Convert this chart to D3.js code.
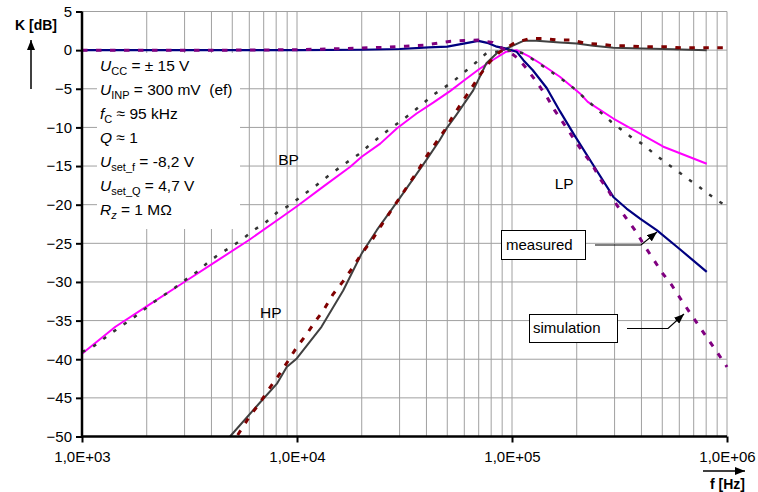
<!DOCTYPE html>
<html lang="en">
<head>
<meta charset="UTF-8">
<title>Filter frequency response</title>
<script src="https://cdn.jsdelivr.net/npm/d3@7"></script>
<style>
  body { margin: 0; background: #fff; }
  svg { display: block; font-family: Arial, "Liberation Sans", sans-serif; }
  .grid line { stroke: #a0a0a0; stroke-width: 1; }
  .curve { fill: none; stroke-linejoin: round; }
</style>
</head>
<body>
<svg id="chart" width="758" height="492"></svg>
<script>
// frequencies in Hz, gain K in dB
const lpMeasF = [1000, 2000, 5000, 10000, 20000, 30000, 41000, 50000, 59500, 69700, 77700, 85000, 94000, 105000, 113000, 125000, 145000, 167000, 195000, 239000, 296000, 341000, 394000, 471000, 600000, 805000];
const lpMeasK = [0, 0, 0, 0, 0.05, 0.15, 0.35, 0.45, 0.85, 1.2, 0.9, 0.45, 0.2, -0.2, -1.3, -2.6, -4.9, -7.9, -11.0, -14.9, -19.0, -20.5, -21.8, -23.3, -25.7, -28.7];

const lpSimF = [1000, 2000, 5000, 10000, 16000, 25000, 32000, 39000, 45000, 52000, 60000, 69600, 81000, 90600, 98000, 107000, 117000, 130000, 145000, 158000, 175000, 189000, 211000, 235000, 256000, 284000, 308000, 341000, 378000, 417000, 458000, 502000, 553000, 609000, 673000, 741000, 811000, 889000, 979000, 1000000];
const lpSimK = [0, 0, 0, 0.05, 0.2, 0.35, 0.5, 0.65, 0.9, 1.15, 1.25, 1.3, 1.0, 0.2, -0.3, -1.1, -2.4, -4.1, -6.0, -7.8, -9.6, -11.0, -13.0, -14.7, -16.6, -18.4, -20.1, -21.8, -23.5, -25.5, -27.2, -28.9, -30.4, -32.2, -34.0, -35.7, -37.3, -38.9, -40.6, -41.0];

const hpMeasF = [4880, 6730, 8050, 8960, 9980, 13000, 16400, 20000, 23500, 29600, 40000, 46000, 49700, 55000, 66000, 76000, 85000, 94000, 113000, 130000, 150000, 167000, 200000, 239000, 296000, 405000, 563000, 805000];
const hpMeasK = [-50, -45.6, -43.2, -41.0, -39.9, -35.8, -31.1, -26.3, -23.3, -19.4, -14.2, -11.7, -10.1, -8.4, -5.2, -1.7, -0.4, 0.2, 1.2, 1.2, 1.1, 1.0, 0.86, 0.56, 0.3, 0.2, 0.13, 0];

const hpSimF = [5300, 5990, 6730, 7430, 8260, 9100, 10000, 11000, 12100, 13400, 14700, 16400, 18200, 20000, 22300, 24500, 26900, 29900, 33000, 36300, 39900, 44000, 48500, 53000, 58000, 63800, 71000, 79000, 88000, 103000, 121000, 140000, 163000, 190000, 220000, 262000, 296000, 350000, 405000, 460000, 530000, 610000, 700000, 800000, 1000000];
const hpSimK = [-49.8, -47.5, -45.6, -43.8, -42.0, -40.2, -38.4, -36.9, -35.2, -33.5, -31.6, -29.9, -28.1, -26.3, -24.6, -22.8, -21.1, -19.2, -17.4, -15.7, -13.8, -12.1, -10.4, -8.6, -6.9, -5.2, -3.2, -1.5, -0.2, 0.95, 1.5, 1.5, 1.3, 1.3, 0.87, 0.74, 0.56, 0.56, 0.43, 0.43, 0.43, 0.3, 0.3, 0.3, 0.3];

const bpMeasF = [1000, 1430, 2040, 2920, 4170, 5960, 8500, 10000, 13200, 17700, 20000, 24400, 29200, 36000, 43000, 51500, 60000, 70000, 79000, 94000, 105000, 120000, 135000, 167000, 207000, 225000, 296000, 394000, 506000, 805000];
const bpMeasK = [-39.3, -35.8, -33.0, -30.2, -27.4, -24.6, -21.6, -20.2, -17.7, -15.1, -13.8, -12.1, -10.1, -8.2, -6.8, -5.3, -3.9, -2.5, -1.5, -0.2, 0.0, -0.8, -1.7, -3.45, -5.6, -6.7, -8.85, -10.8, -12.5, -14.7];

const bpSimF = [1000, 1070, 1190, 1370, 1510, 1740, 1940, 2130, 2440, 2720, 3140, 3460, 3880, 4350, 4980, 5540, 6370, 7080, 8160, 9200, 10600, 11800, 13200, 14900, 16900, 19300, 21700, 24300, 27300, 30700, 34200, 43000, 53000, 61500, 68600, 76000, 95000, 113000, 130000, 145000, 186000, 230000, 290000, 323000, 360000, 407000, 453000, 515000, 580000, 645000, 735000, 808000, 920000, 1000000];
const bpSimK = [-39.0, -38.8, -37.9, -36.6, -35.8, -34.6, -33.6, -32.7, -31.6, -30.7, -29.4, -28.6, -27.4, -26.4, -25.4, -24.5, -23.2, -22.4, -20.9, -20.1, -18.8, -17.9, -16.8, -15.7, -14.6, -13.5, -12.3, -11.2, -10.1, -9.1, -8.1, -5.8, -4.1, -2.6, -1.5, -0.4, 0, -0.4, -1.5, -2.4, -4.5, -6.8, -9.3, -10.3, -11.3, -12.2, -13.3, -14.5, -15.5, -16.5, -17.6, -18.5, -19.6, -20.2];

const yTicks = [5, 0, -5, -10, -15, -20, -25, -30, -35, -40, -45, -50];
const xTicks = [1e3, 1e4, 1e5, 1e6];
const xTickLabels = ["1,0E+03", "1,0E+04", "1,0E+05", "1,0E+06"];

// curve labels placed in data coordinates
const curveLabels = [
  { text: "BP", f: 8170, k: -14.9 },
  { text: "LP", f: 158000, k: -18.0 },
  { text: "HP", f: 6730, k: -34.6 }
];

const svg = d3.select("#chart");

const x = d3.scaleLog().domain([1e3, 1e6]).range([82, 727]);
const y = d3.scaleLinear().domain([-50, 5]).range([436.5, 11.5]);

// arrow heads
const defs = svg.append("defs");
defs.append("marker")
    .attr("id", "arrow")
    .attr("viewBox", "0 0 10 8")
    .attr("refX", 10).attr("refY", 4)
    .attr("markerWidth", 10).attr("markerHeight", 8)
    .attr("markerUnits", "userSpaceOnUse")
    .attr("orient", "auto")
  .append("path")
    .attr("d", "M0,0 L10,4 L0,8 Z")
    .attr("fill", "#000");

// grid
const grid = svg.append("g").attr("class", "grid");
grid.selectAll("line.v")
    .data(x.ticks())
    .enter().append("line")
    .attr("class", "v")
    .attr("x1", d => x(d)).attr("x2", d => x(d))
    .attr("y1", y(5)).attr("y2", y(-50));
grid.selectAll("line.h")
    .data(yTicks)
    .enter().append("line")
    .attr("class", "h")
    .attr("x1", x(1e3)).attr("x2", x(1e6))
    .attr("y1", d => y(d)).attr("y2", d => y(d));

// white box behind the parameter text
svg.append("rect")
    .attr("x", 97).attr("y", 53)
    .attr("width", 143).attr("height", 176)
    .attr("fill", "#fff");

// curves: measured first, simulations on top
const line = (fs, ks) => d3.line()
    .x((d, i) => x(fs[i]))
    .y(d => y(d))(ks);

const curves = [
  { f: bpMeasF, k: bpMeasK, color: "#ff00ff", width: 2, dash: null },
  { f: hpMeasF, k: hpMeasK, color: "#404040", width: 2, dash: null },
  { f: lpMeasF, k: lpMeasK, color: "#000080", width: 2.2, dash: null },
  { f: bpSimF, k: bpSimK, color: "#333333", width: 2.5, dash: "3.5,9" },
  { f: hpSimF, k: hpSimK, color: "#800000", width: 3, dash: "5.5,8.5" },
  { f: lpSimF, k: lpSimK, color: "#800080", width: 3, dash: "5.5,8.5" }
];

svg.append("g").selectAll("path")
    .data(curves)
    .enter().append("path")
    .attr("class", "curve")
    .attr("d", d => line(d.f, d.k))
    .attr("stroke", d => d.color)
    .attr("stroke-width", d => d.width)
    .attr("stroke-dasharray", d => d.dash);

// axes
const yAxis = svg.append("g")
    .attr("transform", `translate(${x(1e3)},0)`)
    .call(d3.axisLeft(y).tickValues(yTicks).tickSize(6).tickPadding(4).tickFormat(d3.format("d")));
const xAxis = svg.append("g")
    .attr("transform", `translate(0,${y(-50)})`)
    .call(d3.axisBottom(x).tickValues(xTicks).tickSize(6).tickPadding(9)
        .tickFormat((d, i) => xTickLabels[i]));

[yAxis, xAxis].forEach(g => {
  g.select(".domain").attr("stroke", "#000").attr("stroke-width", 2.5);
  g.selectAll(".tick line").attr("stroke", "#000").attr("stroke-width", 2);
  g.selectAll(".tick text")
      .attr("fill", "#000")
      .attr("font-size", 15)
      .attr("font-family", "Arial, 'Liberation Sans', sans-serif");
});
yAxis.select(".domain").attr("d", `M0,${y(5)}V${y(-50)}`);
xAxis.select(".domain").attr("d", `M${x(1e3)},0H${x(1e6)}`);

// axis titles with arrows
svg.append("text")
    .attr("x", 57).attr("y", 30)
    .attr("text-anchor", "end")
    .attr("font-size", 14).attr("font-weight", "bold")
    .text("K [dB]");
svg.append("line")
    .attr("x1", 31).attr("y1", 89).attr("x2", 31).attr("y2", 40)
    .attr("stroke", "#000").attr("stroke-width", 1.5)
    .attr("marker-end", "url(#arrow)");

svg.append("text")
    .attr("x", 745).attr("y", 489)
    .attr("text-anchor", "end")
    .attr("font-size", 14).attr("font-weight", "bold")
    .text("f [Hz]");
svg.append("line")
    .attr("x1", 703).attr("y1", 471).attr("x2", 745).attr("y2", 471)
    .attr("stroke", "#000").attr("stroke-width", 1.5)
    .attr("marker-end", "url(#arrow)");

// parameter block
const params = [
  [["U", "i"], ["CC", "s"], [" = ± 15 V", ""]],
  [["U", "i"], ["INP", "s"], [" = 300 mV\u00a0\u00a0(ef)", ""]],
  [["f", "i"], ["C", "s"], [" ≈ 95 kHz", ""]],
  [["Q", "i"], [" ≈ 1", ""]],
  [["U", "i"], ["set_f", "s"], [" = -8,2 V", ""]],
  [["U", "i"], ["set_Q", "s"], [" = 4,7 V", ""]],
  [["R", "i"], ["z", "si"], [" = 1 MΩ", ""]]
];
const paramText = svg.append("g").attr("font-size", 15.5).attr("fill", "#000");
params.forEach((row, r) => {
  const t = paramText.append("text").attr("x", 100).attr("y", 71 + r * 24);
  let shifted = false;
  row.forEach(([s, style]) => {
    const span = t.append("tspan").text(s);
    if (style.includes("i")) span.attr("font-style", "italic");
    if (style.includes("s")) {
      span.attr("font-size", 11).attr("dy", 4);
      shifted = true;
    } else if (shifted) {
      span.attr("dy", -4);
      shifted = false;
    }
  });
});

// curve names
svg.append("g").selectAll("text")
    .data(curveLabels)
    .enter().append("text")
    .attr("x", d => x(d.f))
    .attr("y", d => y(d.k))
    .attr("font-size", 15.5)
    .attr("fill", "#000")
    .text(d => d.text);

// callout boxes
const callouts = [
  { text: "measured", box: [501.5, 230.5, 84, 29], tx: 506, ty: 250, path: [[595, 245], [641, 245], [657, 232]] },
  { text: "simulation", box: [529.5, 314.5, 88, 28], tx: 533, ty: 333, path: [[627, 328.5], [668, 328.5], [684, 314]] }
];
callouts.forEach(c => {
  svg.append("rect")
      .attr("x", c.box[0]).attr("y", c.box[1])
      .attr("width", c.box[2]).attr("height", c.box[3])
      .attr("fill", "#fff").attr("stroke", "#000").attr("stroke-width", 1);
  svg.append("text")
      .attr("x", c.tx).attr("y", c.ty)
      .attr("font-size", 15).attr("fill", "#000")
      .text(c.text);
  svg.append("path")
      .attr("d", d3.line()(c.path))
      .attr("fill", "none").attr("stroke", "#000").attr("stroke-width", 1.2)
      .attr("marker-end", "url(#arrow)");
});
</script>
</body>
</html>
